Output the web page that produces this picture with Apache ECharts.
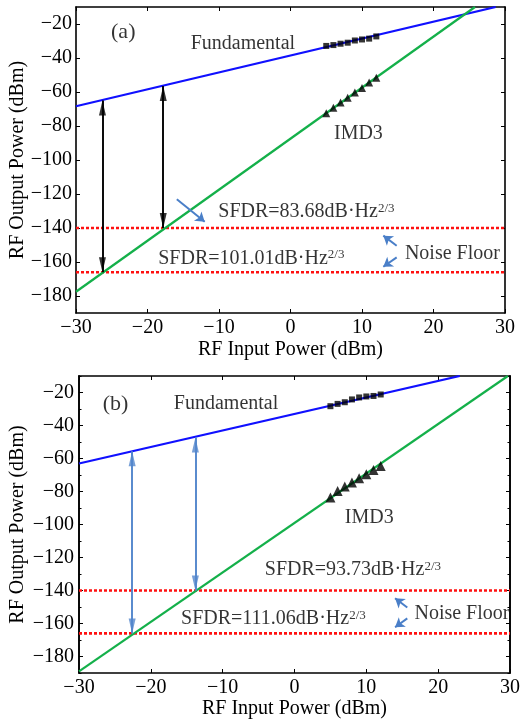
<!DOCTYPE html>
<html><head><meta charset="utf-8">
<script src="https://cdn.jsdelivr.net/npm/echarts@6/dist/echarts.min.js"></script>
<style>html,body{margin:0;padding:0;background:#fff}#c{width:522px;height:719px}</style>
</head><body><div id="c"></div>
<script>
// ---------- data ----------
const xTicks = [-30, -20, -10, 0, 10, 20, 30];
const yTicks = [-180, -160, -140, -120, -100, -80, -60, -40, -20];
const yMinorTicks = [-190, -170, -150, -130, -110, -90, -70, -50, -30, -10];
const measX = [5, 6, 7, 8, 9, 10, 11, 12];
const noiseFloors = [-140, -166];

// panel (a)
const fundLineA = [[-30, -68.4], [28.7, -10]];
const imd3LineA = [[-30, -177.5], [25.8, -10]];
const fundMeasA = [-32.9, -32.4, -31.6, -31.0, -29.7, -29.1, -28.6, -27.3];
const imd3MeasA = [-72.5, -69.3, -66.2, -63.4, -60.3, -57.6, -54.4, -51.6];
const arrowXA = [-26.3, -17.8];
const arrowTopA = [-65.0, -56.5];
const arrowBotA = [-166, -140];
const pointerA = [
  [[-15.9, -123.1], [-12.0, -136.3]],
  [[14.85, -150.4], [12.98, -144.5]],
  [[14.85, -157.3], [12.98, -162.8]]
];
const labelsA = [
  {x: -25.1, y: -24.7, t: '(a)', size: 22},
  {x: -13.96, y: -31.8, t: 'Fundamental', size: 20},
  {x: 6.08, y: -84.7, t: 'IMD3', size: 20},
  {x: -10.1, y: -130.4, t: 'SFDR=83.68dB·Hz', sup: '2/3', size: 20},
  {x: -18.5, y: -157.9, t: 'SFDR=101.01dB·Hz', sup: '2/3', size: 20},
  {x: 16.0, y: -154.9, t: 'Noise Floor', size: 20}
];

// panel (b)
const fundLineB = [[-30, -63], [23, -10]];
const imd3LineB = [[-30, -189], [29.7, -10]];
const fundMeasB = [-28.3, -26.9, -25.9, -24.2, -23.0, -22.4, -22.1, -21.2];
const imd3MeasB = [-83.6, -79.7, -76.9, -74.5, -71.9, -69.5, -66.9, -64.5];
const arrowXB = [-22.6, -13.8];
const arrowTopB = [-55.6, -47.3];
const arrowBotB = [-166, -140];
const pointerB = [
  [[15.7, -150.3], [14.0, -144.7]],
  [[15.7, -156.9], [14.0, -162.3]]
];
const labelsB = [
  {x: -26.7, y: -27.1, t: '(b)', size: 22},
  {x: -16.8, y: -26.9, t: 'Fundamental', size: 20},
  {x: 7.0, y: -95.8, t: 'IMD3', size: 20},
  {x: -4.14, y: -127.4, t: 'SFDR=93.73dB·Hz', sup: '2/3', size: 20},
  {x: -15.8, y: -157.2, t: 'SFDR=111.06dB·Hz', sup: '2/3', size: 20},
  {x: 16.7, y: -154.2, t: 'Noise Floor', size: 20}
];

// ---------- styling ----------
const FONT = '"Liberation Serif", "Times New Roman", serif';
const BLUE = '#1010ff', GREEN = '#14b04a', RED = '#ff1010', PTR = '#4a7fc8';
const fmt = v => String(v).replace('-', '\u2212');

function xAxes(gi) {
  const base = {gridIndex: gi, type: 'value', min: -30, max: 30, interval: 10,
    axisLine: {show: true, onZero: false, lineStyle: {color: '#000', width: 1.6}},
    splitLine: {show: false}};
  return [
    Object.assign({}, base, {position: 'bottom',
      axisTick: {inside: true, length: 4, lineStyle: {color: '#000'}},
      axisLabel: {color: '#000', fontFamily: FONT, fontSize: 20, margin: 5, formatter: fmt},
      name: 'RF Input Power (dBm)', nameLocation: 'middle', nameGap: gi === 0 ? 27 : 26, nameMoveOverlap: false,
      nameTextStyle: {color: '#000', fontFamily: FONT, fontSize: 20}}),
    Object.assign({}, base, {position: 'top',
      axisTick: {inside: true, length: 4, lineStyle: {color: '#000'}},
      axisLabel: {show: false}})
  ];
}
function yAxes(gi, minor) {
  const base = {gridIndex: gi, type: 'value', min: -190, max: -10,
    axisLine: {show: true, onZero: false, lineStyle: {color: '#000', width: 1.6}},
    splitLine: {show: false}};
  const arr = [
    Object.assign({}, base, {position: 'left',
      axisTick: {inside: true, length: 4, customValues: yTicks, lineStyle: {color: '#000'}},
      axisLabel: {color: '#000', fontFamily: FONT, fontSize: 20, margin: gi === 0 ? 4 : 5, customValues: yTicks, formatter: fmt},
      name: 'RF Output Power (dBm)', nameLocation: 'middle', nameGap: gi === 0 ? 48 : 51, nameRotate: 90, nameMoveOverlap: false,
      nameTextStyle: {color: '#000', fontFamily: FONT, fontSize: 20}}),
    Object.assign({}, base, {position: 'right',
      axisTick: {inside: true, length: 4, customValues: yTicks, lineStyle: {color: '#000'}},
      axisLabel: {show: false}})
  ];
  if (minor) {
    arr.push(Object.assign({}, base, {position: 'left',
      axisTick: {inside: true, length: 2.5, customValues: yMinorTicks, lineStyle: {color: '#000'}},
      axisLabel: {show: false}}));
    arr.push(Object.assign({}, base, {position: 'right',
      axisTick: {inside: true, length: 2.5, customValues: yMinorTicks, lineStyle: {color: '#000'}},
      axisLabel: {show: false}}));
  }
  return arr;
}

function panelSeries(xi, yi, d, arrowColor) {
  const ax = {xAxisIndex: xi, yAxisIndex: yi};
  const s = [];
  noiseFloors.forEach(v => s.push(Object.assign({type: 'line', data: [[-30, v], [30, v]], symbol: 'none',
    lineStyle: {color: RED, width: 2.6, type: [3, 2]}, z: 3, silent: true}, ax)));
  s.push(Object.assign({type: 'line', data: d.fund, symbol: 'none', lineStyle: {color: BLUE, width: 2.2}, z: 4}, ax));
  s.push(Object.assign({type: 'line', data: d.imd3, symbol: 'none', lineStyle: {color: GREEN, width: 2.2}, z: 4}, ax));
  s.push(Object.assign({type: 'scatter', data: measX.map((x, i) => [x, d.fundMeas[i]]), symbol: 'rect',
    symbolSize: 6, itemStyle: {color: '#000'}, z: 6}, ax));
  s.push(Object.assign({type: 'scatter', data: measX.map((x, i) => [x, d.imd3Meas[i]]), symbol: 'triangle',
    symbolSize: d.triSize, itemStyle: {color: '#000'}, z: 6}, ax));
  // vertical double arrows
  s.push(Object.assign({type: 'lines', coordinateSystem: 'cartesian2d',
    data: d.arrowX.map((x, i) => ({coords: [[x, d.arrowTop[i]], [x, d.arrowBot[i]]]})),
    lineStyle: {color: arrowColor, width: 1.9, opacity: 1}, symbol: 'none', z: 7}, ax));
  s.push(Object.assign({type: 'scatter', data: d.arrowX.map((x, i) => [x, d.arrowTop[i]]),
    symbol: 'triangle', symbolSize: [7, 15], symbolOffset: [0, 7.5], itemStyle: {color: arrowColor}, z: 8}, ax));
  s.push(Object.assign({type: 'scatter', data: d.arrowX.map((x, i) => [x, d.arrowBot[i]]),
    symbol: 'triangle', symbolSize: [7, 15], symbolRotate: 180, symbolOffset: [0, -7.5], itemStyle: {color: arrowColor}, z: 8}, ax));
  // pointer arrows
  s.push(Object.assign({type: 'lines', coordinateSystem: 'cartesian2d',
    data: d.pointers.map(p => ({coords: p})), symbol: ['none', 'arrow'], symbolSize: 9,
    lineStyle: {color: PTR, width: 2, opacity: 1}, z: 7}, ax));
  // text labels
  s.push(Object.assign({type: 'scatter', symbolSize: 0, z: 9, silent: true,
    data: d.labels.map(l => ({value: [l.x, l.y], label: {show: true, position: [0, 0], align: 'left', verticalAlign: 'middle',
      formatter: l.sup ? '{m|' + l.t + '}{s|' + l.sup + '}' : '{m|' + l.t + '}',
      rich: {m: {fontFamily: FONT, fontSize: l.size, color: '#000'},
             s: {fontFamily: FONT, fontSize: 13, color: '#000', verticalAlign: 'top', padding: [0, 0, 0, 0]}}}}))}, ax));
  return s;
}

const chart = echarts.init(document.getElementById('c'), null, {renderer: 'canvas'});
chart.setOption({
  animation: false,
  backgroundColor: '#fff',
  textStyle: {fontFamily: FONT},
  grid: [
    {left: 76, top: 7, width: 429, height: 306, containLabel: false, outerBoundsMode: 'none'},
    {left: 79, top: 376, width: 431, height: 297, containLabel: false, outerBoundsMode: 'none'}
  ],
  xAxis: [].concat(xAxes(0), xAxes(1)),
  yAxis: [].concat(yAxes(0, false), yAxes(1, true)),
  series: [].concat(
    panelSeries(0, 0, {fund: fundLineA, imd3: imd3LineA, fundMeas: fundMeasA, imd3Meas: imd3MeasA, triSize: 8,
      arrowX: arrowXA, arrowTop: arrowTopA, arrowBot: arrowBotA, pointers: pointerA, labels: labelsA}, '#000'),
    panelSeries(2, 2, {fund: fundLineB, imd3: imd3LineB, fundMeas: fundMeasB, imd3Meas: imd3MeasB, triSize: 10,
      arrowX: arrowXB, arrowTop: arrowTopB, arrowBot: arrowBotB, pointers: pointerB, labels: labelsB}, '#5286cc')
  )
});
</script></body></html>
